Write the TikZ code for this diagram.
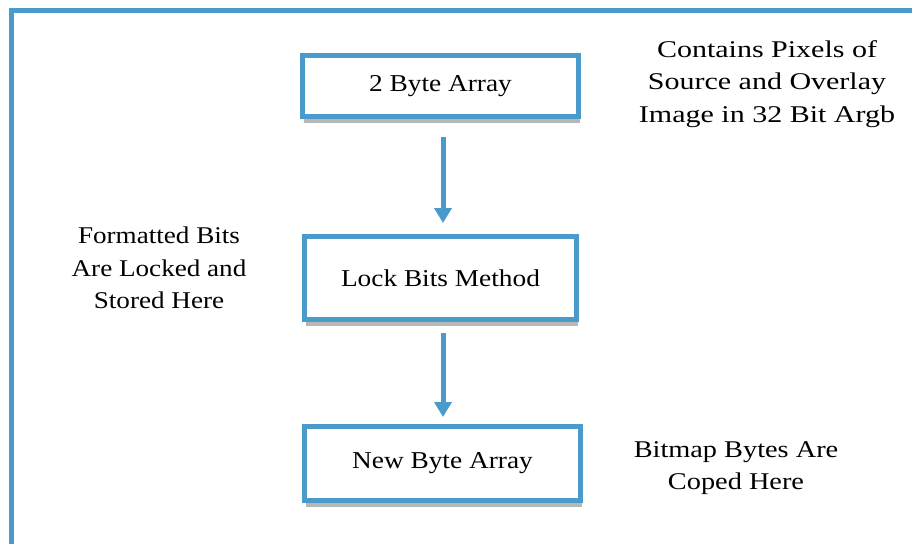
\documentclass[tikz,border=0pt]{standalone}
\usepackage{fontspec}
\setmainfont{Liberation Serif}
\newfontfamily\wideserif[FakeStretch=1.13]{Liberation Serif}
\newfontfamily\widerserif[FakeStretch=1.25]{Liberation Serif}
\newfontfamily\midserif[FakeStretch=1.18]{Liberation Serif}
\usetikzlibrary{arrows.meta,shadows}
\definecolor{frameblue}{RGB}{74,155,203}
\tikzset{
  flowbox/.style={draw=frameblue, line width=5pt, fill=white, inner sep=0pt,
    drop shadow={shadow xshift=1pt, shadow yshift=-6.5pt, opacity=0.35, fill=black!80},
    font=\wideserif\fontsize{24.2}{30}\selectfont},
  flowarrow/.style={draw=frameblue, line width=5pt,
    -{Triangle[width=17pt,length=15pt]}},
  note/.style={align=center, inner sep=0pt,
    font=\wideserif\fontsize{24}{32.5}\selectfont},
  frame/.style={draw=frameblue, line width=5pt}
}
\begin{document}
\begin{tikzpicture}[x=1pt,y=-1pt]
\useasboundingbox (0,0) rectangle (912,544);
\fill[white] (0,0) rectangle (912,544);
\coordinate (fb) at (11.5,544);
\coordinate (fc) at (11.5,10.5);
\coordinate (fr) at (912,10.5);
\draw[frame] (fb) -- (fc) -- (fr);
\node[flowbox, minimum width=276pt, minimum height=61pt] (b1) at (440.5,86) {2 Byte Array};
\node[flowbox, minimum width=272pt, minimum height=83pt] (b2) at (440.5,278) {Lock Bits Method};
\node[flowbox, minimum width=276pt, minimum height=74pt] (b3) at (442.5,463.5) {New Byte Array};
\draw[flowarrow, shorten <=18pt, shorten >=11pt] (b1.south -| 443,0) -- (b2.north -| 443,0);
\draw[flowarrow, shorten <=11pt, shorten >=7pt] (b2.south -| 443,0) -- (b3.north -| 443,0);
\node[note, font=\widerserif\fontsize{24}{32.5}\selectfont] (n1) at (767,84) {Contains Pixels of\\Source and Overlay\\Image in 32 Bit Argb};
\node[note] (n2) at (159,268) {Formatted Bits\\Are Locked and\\Stored Here};
\node[note, font=\midserif\fontsize{24}{32.5}\selectfont] (n3) at (736,468) {Bitmap Bytes Are\\Coped Here};
\end{tikzpicture}
\end{document}
